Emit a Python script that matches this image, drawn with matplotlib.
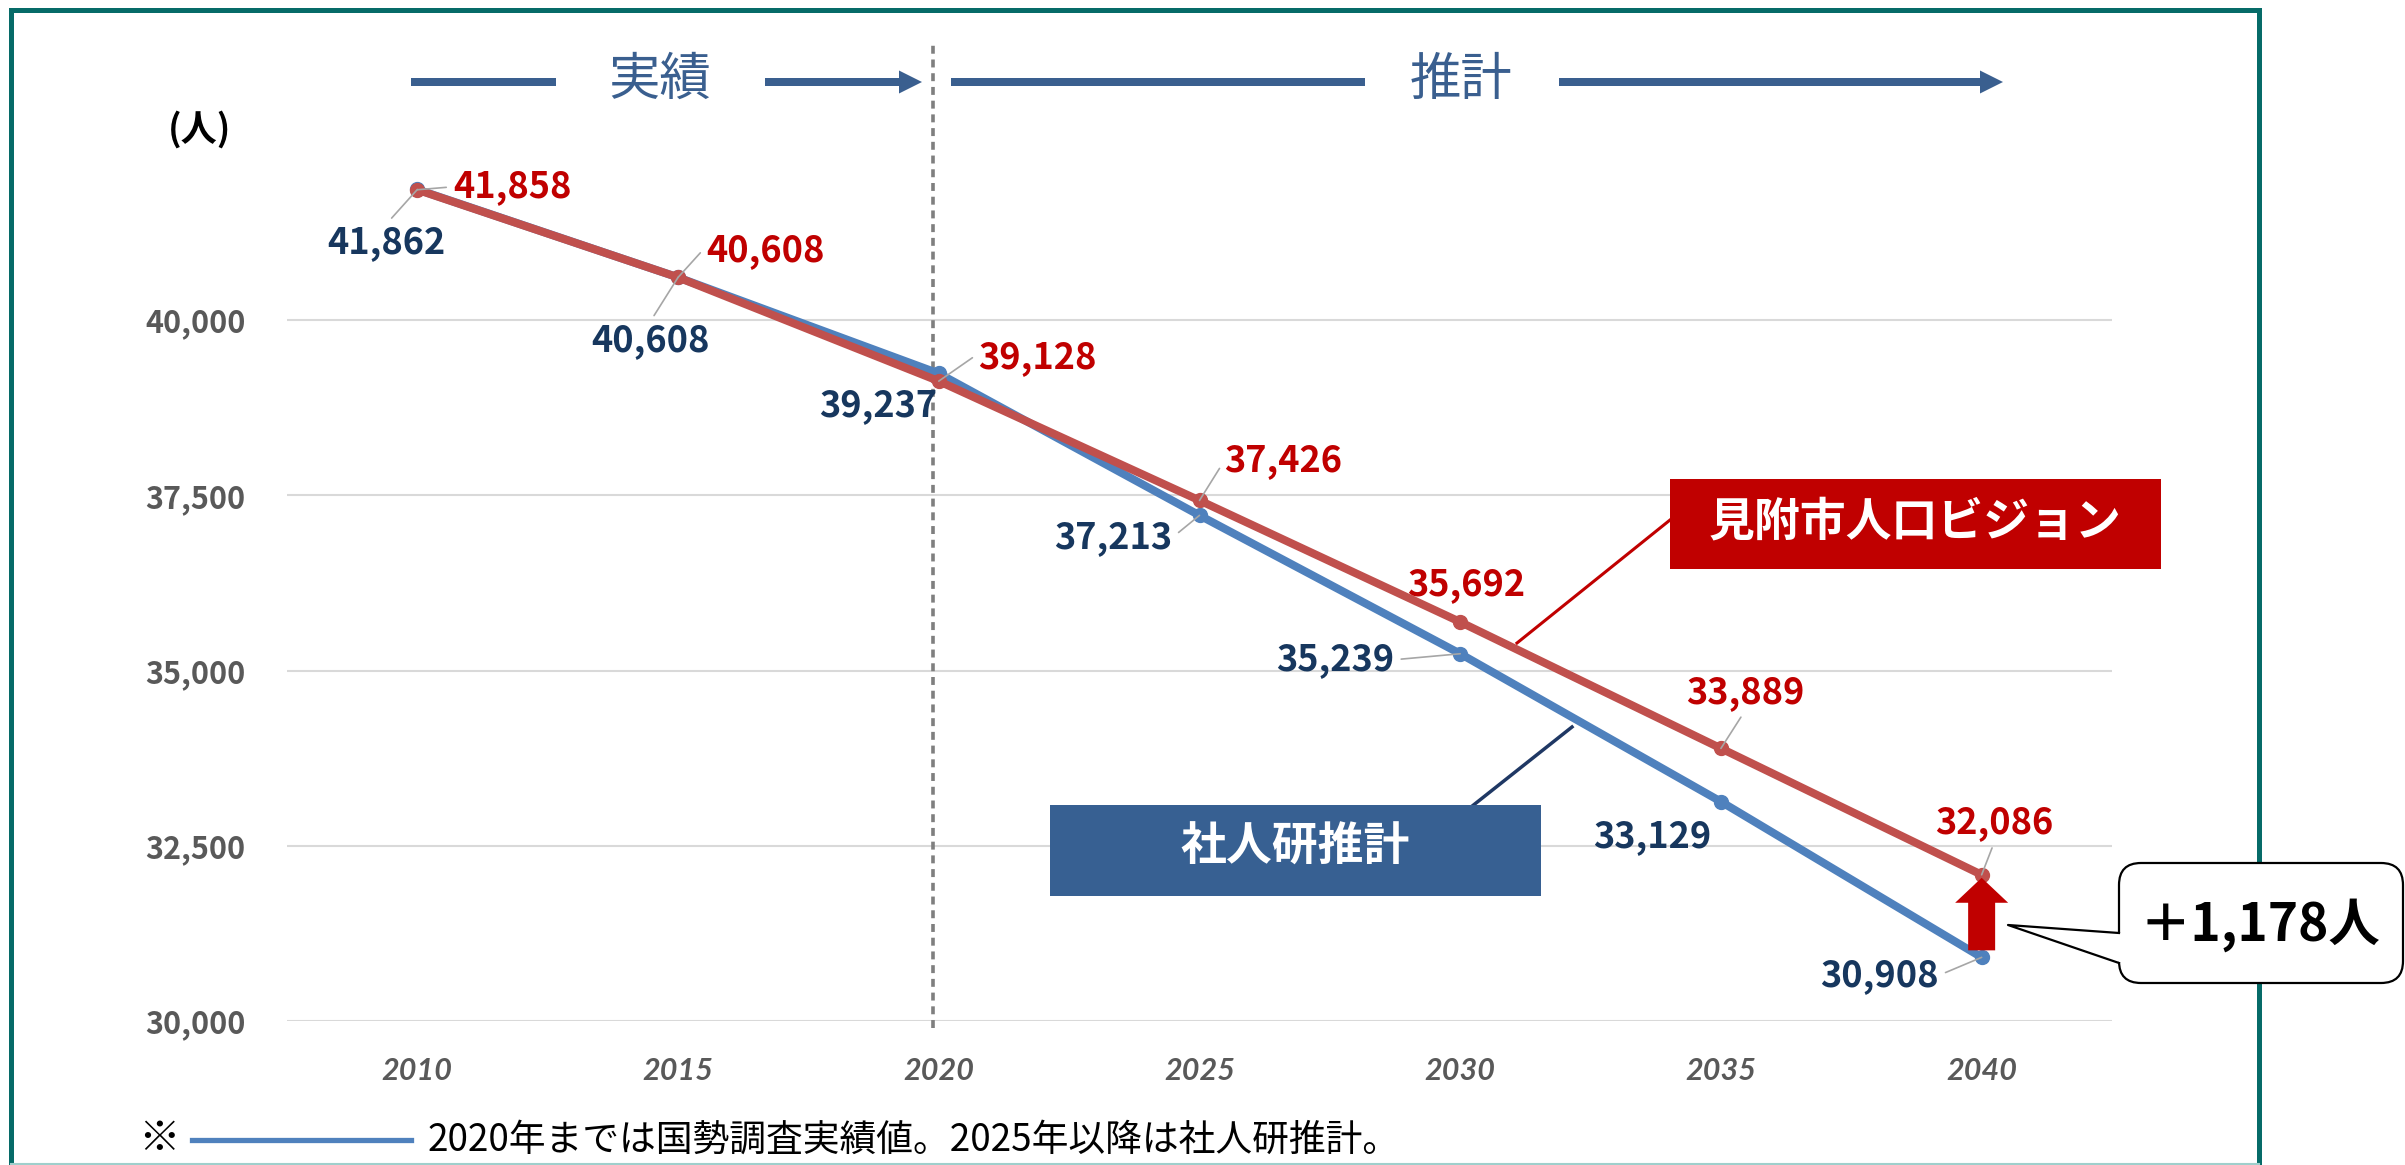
import matplotlib
matplotlib.use("Agg")
import matplotlib.pyplot as plt
from matplotlib.patches import Polygon, Rectangle, FancyBboxPatch
from matplotlib.lines import Line2D
from matplotlib.ticker import FuncFormatter
import matplotlib.transforms as mtransforms

plt.rcParams['font.family'] = ['Noto Sans CJK JP', 'DejaVu Sans']

# データ
years = [2010, 2015, 2020, 2025, 2030, 2035, 2040]
ipss = [41862, 40608, 39237, 37213, 35239, 33129, 30908]      # 社人研推計
vision = [41858, 40608, 39128, 37426, 35692, 33889, 32086]    # 見附市人口ビジョン
yticks = [30000, 32500, 35000, 37500, 40000]
diff_label = "＋1,178人"
note = "2020年までは国勢調査実績値。2025年以降は社人研推計。"

# ラベル位置 (offset pixels) と引き出し線の起点
red_off = [(95, 3), (87, 27), (99, 24), (84, 40), (6, 37), (24, 56), (13, 52)]
red_rel = [(0, 0.5), (0, 0.6), (0, 0.6), (0, 0.5), None, (0.5, 0), (0.5, 0)]
blue_off = [(-31, -53), (-28, -63), (-61, -32), (-86, -22), (-125, -6), (-69, -35), (-102, -18)]
blue_rel = [(0.5, 1), (0.5, 1), None, (1, 0.5), (1, 0.5), None, (1, 0.5)]

RED_LINE = '#C0504D'
BLUE_LINE = '#4F81BD'
RED_TXT = '#C00000'
BLUE_TXT = '#17375E'
ARROW_BLUE = '#3A5F8F'
TEAL = '#066B68'

W, H = 2405, 1165
fig = plt.figure(figsize=(W / 100, H / 100), dpi=100)

ax = fig.add_axes([287 / W, (H - 1021) / H, (2112 - 287) / W, (1021 - 144.75) / H])
ax.set_xlim(2007.5, 2042.5)
ax.set_ylim(30000, 42500)
ax.set_xticks(years)
ax.set_yticks(yticks)
ax.yaxis.set_major_formatter(FuncFormatter(lambda v, p: f"{int(v):,}"))
for s in ax.spines.values():
    s.set_visible(False)
ax.tick_params(length=0)
ax.tick_params(axis='y', pad=30, labelsize=22, labelcolor='#595959')
ax.tick_params(axis='x', pad=26, labelsize=22, labelcolor='#595959')
for t in ax.get_yticklabels():
    t.set_fontweight('bold')
for t in ax.get_xticklabels():
    t.set_fontweight('bold')
    t.set_fontstyle('italic')
    t.set_family(['Lato', 'DejaVu Sans'])
ax.grid(axis='y', color='#D9D9D9', lw=1.5)
ax.set_axisbelow(True)

# 2020年の区切り線
trans = mtransforms.blended_transform_factory(ax.transData, ax.transAxes)
ax.plot([2019.88, 2019.88], [-0.008, 1.116], transform=trans, clip_on=False,
        color='#7F7F7F', lw=2.6, ls=(0, (2.2, 1.6)), zorder=1.5)

ax.plot(years, ipss, color=BLUE_LINE, lw=5.8, marker='o', ms=10, zorder=3)
ax.plot(years, vision, color=RED_LINE, lw=5.8, marker='o', ms=10, zorder=4)

def label(vals, offs, rels, color):
    for x, v, off, rel in zip(years, vals, offs, rels):
        ap = None
        if rel is not None:
            ap = dict(arrowstyle='-', color='#A6A6A6', lw=1.2, relpos=rel,
                      shrinkA=3, shrinkB=0)
        ax.annotate(f"{v:,}", xy=(x, v), xytext=off, textcoords='offset pixels',
                    ha='center', va='center', fontsize=26, fontweight='bold',
                    color=color, arrowprops=ap, zorder=6)

label(vision, red_off, red_rel, RED_TXT)
label(ipss, blue_off, blue_rel, BLUE_TXT)

# 図全体のピクセル座標で描く重ね合わせ
ov = fig.add_axes([0, 0, 1, 1], zorder=5)
ov.set_xlim(0, W)
ov.set_ylim(H, 0)
ov.axis('off')

ov.text(200, 130, "(人)", fontsize=26, fontweight='bold', ha='center', va='center')

# 枠
ov.add_line(Line2D([11, 11, 2259, 2259], [1166, 10, 10, 1166], color=TEAL, lw=3.6,
                   solid_joinstyle='miter', zorder=1))
ov.add_line(Line2D([11, 2259], [1163.5, 1163.5], color='#9FCFCC', lw=1.5, zorder=1))

# 実績 / 推計 の矢印
def bar(x0, x1, y=82, th=8):
    ov.add_patch(Rectangle((x0, y - th / 2), x1 - x0, th, color=ARROW_BLUE, lw=0))

def arrow(x0, x1, y=82, th=8, hl=23, hw=23):
    bar(x0, x1 - hl, y, th)
    ov.add_patch(Polygon([(x1 - hl, y - hw / 2), (x1, y), (x1 - hl, y + hw / 2)],
                         closed=True, color=ARROW_BLUE, lw=0))

bar(411, 556)
arrow(765, 922)
bar(951, 1365)
arrow(1559, 2003)
ov.text(660, 80, "実績", fontsize=37, color=ARROW_BLUE, ha='center', va='center')
ov.text(1461, 80, "推計", fontsize=37, color=ARROW_BLUE, ha='center', va='center')

# 系列名ボックス
ov.add_line(Line2D([1517, 1670], [643, 520], color=RED_TXT, lw=2.2))
ov.add_patch(Rectangle((1670, 479), 491, 90, color='#C00000', lw=0, zorder=2))
ov.text(1915, 522, "見附市人口ビジョン", fontsize=33, fontweight='bold', color='white',
        ha='center', va='center', zorder=3)

ov.add_line(Line2D([1471, 1572], [807, 727], color='#1F3864', lw=2.5))
ov.add_patch(Rectangle((1050, 805), 491, 91, color='#376092', lw=0, zorder=2))
ov.text(1295, 848, "社人研推計", fontsize=33, fontweight='bold', color='white',
        ha='center', va='center', zorder=3)

# 2040年の差を示す上向き矢印
_, yb = ax.transData.transform((years[-1], ipss[-1]))
xa, yt = ax.transData.transform((years[-1], vision[-1]))
yb, yt = H - yb - 7, H - yt + 3
head = 25
ov.add_patch(Polygon([(xa - 13.5, yb), (xa - 13.5, yt + head), (xa - 26.5, yt + head),
                      (xa, yt), (xa + 26.5, yt + head), (xa + 13.5, yt + head),
                      (xa + 13.5, yb)], closed=True, color='#C00000', lw=0, zorder=4))

# 吹き出し
ov.add_patch(FancyBboxPatch((2119, 863), 2403 - 2119, 120,
                            boxstyle="round,pad=0,rounding_size=22",
                            fc='white', ec='black', lw=1.6, zorder=6))
ov.add_patch(Polygon([(2122, 933), (2008, 925), (2122, 963)], closed=True,
                     fc='white', ec='none', zorder=7))
ov.add_line(Line2D([2119, 2008, 2119], [933, 925, 963], color='black', lw=1.6, zorder=8))
ov.text(2260, 925, diff_label, fontsize=37, fontweight='bold', color='black',
        ha='center', va='center', zorder=9)

# 注記
ov.text(159, 1140, "※", fontsize=30, ha='center', va='center')
ov.add_line(Line2D([192, 411], [1140, 1140], color=BLUE_LINE, lw=3.8))
ov.text(428, 1140, note, fontsize=26.5, ha='left', va='center')

fig.savefig("out.png", dpi=100)
